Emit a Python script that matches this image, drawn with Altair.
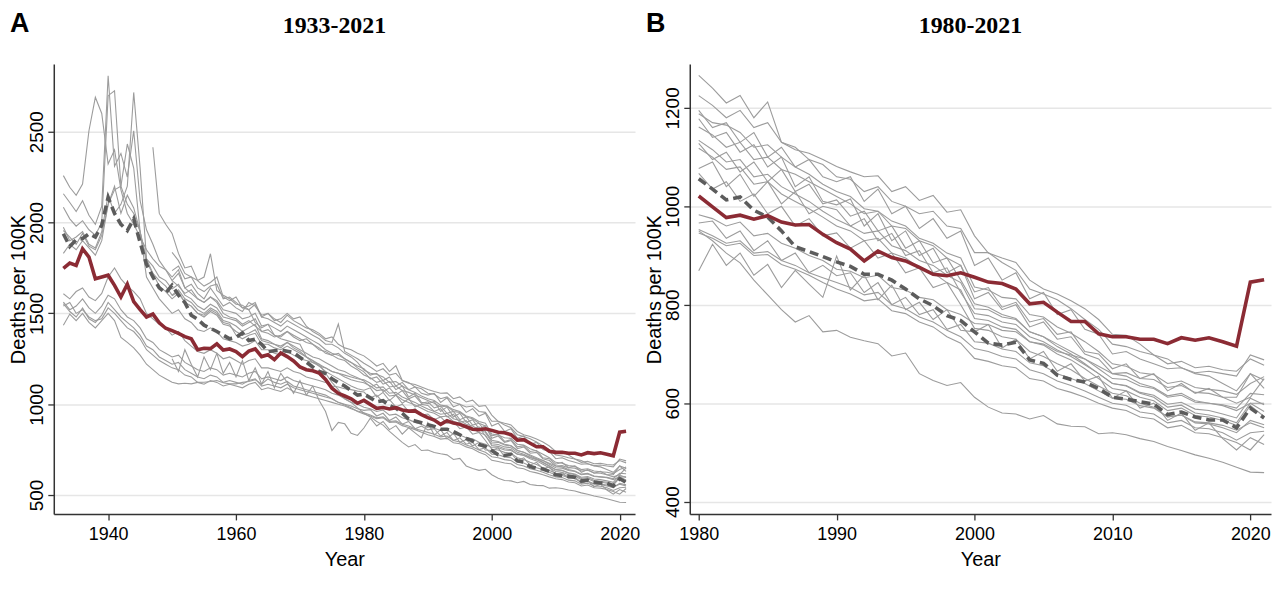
import altair as alt
import pandas as pd

# ---------------- data (deaths per 100K, age-adjusted) ----------------
US = [1748, 1777, 1764, 1855, 1810, 1690, 1700,
      1710, 1654, 1590, 1660, 1565, 1520, 1480, 1496, 1448, 1418,
      1405, 1390, 1372, 1360, 1300, 1308, 1306, 1332, 1298, 1304,
      1290, 1262, 1292, 1304, 1262, 1272, 1245, 1282, 1262, 1238,
      1205, 1190, 1184, 1172, 1136, 1088, 1060, 1045, 1030, 1005,
      1021, 999, 977, 982, 974, 981, 968, 962, 963, 943,
      926, 913, 889, 909, 896, 889, 876, 862, 859, 865,
      856, 846, 843, 832, 802, 805, 785, 766, 766, 741,
      735, 735, 730, 730, 721, 733, 728, 733, 725, 716,
      846, 851]

AVG = [1938, 1868, 1905, 1912, 1938, 1920, 1985,
       2139, 2050, 1990, 1956, 2020, 1890, 1770, 1700, 1640, 1612,
       1655, 1600, 1560, 1490, 1468, 1435, 1418, 1400, 1380, 1360,
       1368, 1392, 1350, 1358, 1330, 1290, 1294, 1298, 1292, 1284,
       1258, 1232, 1205, 1180, 1168, 1140, 1118, 1100, 1075, 1050,
       1056, 1035, 1013, 1019, 992, 978, 950, 918, 908, 898,
       887, 878, 862, 862, 850, 832, 812, 798, 778, 768,
       745, 722, 718, 724, 688, 681, 657, 648, 643, 630,
       612, 608, 603, 598, 577, 582, 572, 566, 566, 550,
       590, 570]

START = {"C01": 1933, "C02": 1950, "C03": 1933, "C04": 1950, "C05": 1950,
         "C06": 1933, "C07": 1933, "C08": 1933, "C09": 1950, "C10": 1933,
         "C11": 1933, "C12": 1933, "C13": 1933, "C14": 1933, "C15": 1947,
         "C16": 1933, "C17": 1950}

C01 = [2158, 2110, 2060, 2120, 2040, 1990, 2090,
       2808, 2310, 2380, 2250, 2505, 2120, 1960, 1880, 1790, 1740,
       1680, 1720, 1640, 1660, 1610, 1580, 1640, 1590, 1540, 1560,
       1530, 1510, 1560, 1540, 1490, 1500, 1470, 1450, 1490, 1460,
       1440, 1420, 1410, 1390, 1360, 1370, 1330, 1310, 1300, 1280,
       1266, 1240, 1210, 1225, 1180, 1212, 1130, 1115, 1108, 1095,
       1081, 1070, 1060, 1062, 1030, 1040, 1012, 1022, 988, 993,
       940, 905, 895, 886, 850, 832, 822, 808, 792, 770,
       740, 738, 720, 698, 690, 672, 660, 655, 640, 625,
       660, 630]
C02 = [1836, 1790, 1720, 1700, 1681, 1700, 1828, 1626, 1600, 1580,
       1550, 1545, 1520, 1550, 1480, 1500, 1460, 1470, 1500, 1470,
       1480, 1430, 1400, 1380, 1350, 1340, 1441, 1290, 1270, 1250,
       1225, 1205, 1180, 1195, 1160, 1170, 1130, 1120, 1095, 1085,
       1060, 1055, 1030, 1040, 1010, 1000, 985, 990, 960, 955,
       906, 906, 886, 870, 832, 822, 810, 792, 770, 750,
       720, 715, 705, 698, 680, 685, 672, 675, 668, 665,
       690, 677]
C03 = [2258, 2194, 2150, 2212, 2505, 2689, 2600,
       2322, 2400, 2180, 2050, 1990, 1920, 1850, 1800, 1760, 1740,
       1700, 1740, 1640, 1610, 1580, 1560, 1590, 1560, 1500, 1480,
       1470, 1440, 1460, 1430, 1400, 1390, 1370, 1380, 1400, 1370,
       1350, 1360, 1330, 1300, 1290, 1270, 1280, 1250, 1230, 1210,
       1195, 1160, 1170, 1130, 1150, 1100, 1120, 1080, 1095, 1060,
       1050, 1060, 1010, 1035, 985, 1000, 955, 975, 935, 950,
       880, 895, 850, 865, 812, 825, 780, 790, 750, 740,
       700, 705, 690, 680, 670, 672, 662, 665, 660, 655,
       698, 688]
C04 = [1735, 1760, 1690, 1700, 1640, 1620, 1650, 1660, 1580, 1590,
       1560, 1530, 1540, 1560, 1480, 1470, 1450, 1430, 1460, 1440,
       1420, 1400, 1380, 1360, 1330, 1330, 1310, 1280, 1260, 1230,
       1188, 1170, 1165, 1150, 1120, 1125, 1100, 1080, 1065, 1045,
       1030, 1020, 995, 990, 970, 960, 935, 925, 905, 895,
       836, 830, 815, 812, 780, 775, 755, 742, 725, 705,
       680, 675, 662, 658, 640, 645, 632, 628, 625, 618,
       640, 654]
C05 = [1680, 1650, 1610, 1630, 1580, 1560, 1590, 1570, 1520, 1510,
       1500, 1470, 1480, 1500, 1430, 1440, 1420, 1400, 1430, 1410,
       1390, 1370, 1350, 1330, 1300, 1280, 1270, 1250, 1230, 1200,
       1178, 1140, 1150, 1110, 1125, 1080, 1100, 1040, 1060, 1010,
       1003, 1015, 960, 985, 930, 950, 900, 915, 865, 880,
       812, 825, 790, 800, 755, 765, 730, 735, 700, 690,
       660, 655, 640, 632, 615, 620, 605, 600, 595, 585,
       600, 600]
C06 = [2084, 2020, 1980, 2010, 1960, 1930, 2000,
       2698, 2725, 2200, 2100, 2050, 1950, 1800, 1760, 1700, 1680,
       1634, 1660, 1600, 1580, 1540, 1520, 1550, 1530, 1480, 1470,
       1460, 1430, 1450, 1470, 1400, 1410, 1380, 1370, 1400, 1380,
       1360, 1340, 1330, 1310, 1280, 1270, 1250, 1240, 1210, 1190,
       1161, 1145, 1120, 1130, 1095, 1100, 1075, 1065, 1050, 1035,
       1020, 1005, 985, 990, 960, 955, 930, 920, 895, 880,
       826, 835, 795, 805, 765, 772, 740, 745, 705, 700,
       670, 680, 650, 660, 625, 640, 620, 630, 612, 612,
       660, 647]
C07 = [1830, 1880, 1850, 1900, 1860, 1820, 1900,
       2100, 2180, 2200, 2432, 2300, 1950, 1700, 1640, 1580, 1540,
       1500, 1520, 1470, 1450, 1410, 1400, 1420, 1400, 1360, 1350,
       1340, 1320, 1330, 1350, 1300, 1300, 1280, 1270, 1290, 1270,
       1250, 1240, 1230, 1210, 1200, 1180, 1170, 1160, 1150, 1140,
       1134, 1115, 1090, 1095, 1060, 1065, 1040, 1025, 1010, 990,
       973, 960, 945, 950, 920, 910, 890, 880, 860, 845,
       792, 790, 775, 770, 745, 735, 720, 705, 690, 670,
       650, 648, 635, 630, 612, 616, 602, 600, 597, 590,
       620, 617]
C08 = [1974, 1900, 1920, 1950, 1880, 1860, 1950,
       2150, 2050, 2100, 2200, 2716, 2300, 1800, 1720, 1650, 1620,
       1580, 1610, 1560, 1540, 1500, 1480, 1510, 1490, 1440, 1430,
       1400, 1380, 1390, 1410, 1350, 1340, 1330, 1310, 1340, 1320,
       1300, 1280, 1260, 1250, 1230, 1210, 1190, 1180, 1160, 1145,
       1128, 1095, 1110, 1070, 1090, 1050, 1075, 1030, 1045, 1005,
       1013, 980, 990, 950, 960, 915, 930, 885, 895, 850,
       802, 795, 780, 772, 745, 735, 715, 700, 680, 660,
       640, 635, 620, 612, 592, 596, 580, 576, 570, 560,
       600, 583]
C09 = [1597, 1620, 1560, 1540, 1500, 1490, 1520, 1500, 1450, 1440,
       1380, 1360, 1380, 1390, 1330, 1330, 1310, 1300, 1320, 1300,
       1280, 1260, 1240, 1220, 1200, 1180, 1170, 1150, 1135, 1125,
       1118, 1100, 1075, 1080, 1045, 1050, 1025, 1010, 995, 978,
       960, 950, 930, 935, 905, 895, 875, 865, 845, 830,
       772, 768, 755, 750, 725, 718, 700, 688, 670, 650,
       630, 625, 612, 605, 585, 590, 575, 572, 565, 555,
       595, 573]
C10 = [1956, 1920, 1880, 1940, 1870, 1850, 1930,
       2100, 2200, 2050, 2150, 2080, 1950, 1780, 1720, 1680, 1650,
       1600, 1630, 1580, 1560, 1520, 1500, 1530, 1510, 1460, 1450,
       1430, 1400, 1420, 1440, 1360, 1350, 1330, 1320, 1340, 1310,
       1290, 1260, 1240, 1210, 1180, 1160, 1140, 1120, 1100, 1085,
       1077, 1090, 1040, 1065, 1020, 1050, 1005, 1030, 985, 1000,
       993, 960, 975, 930, 945, 900, 910, 865, 875, 825,
       782, 778, 765, 760, 735, 725, 708, 695, 678, 660,
       640, 636, 622, 616, 598, 602, 588, 585, 578, 570,
       610, 597]
C11 = [1608, 1580, 1620, 1640, 1590, 1570, 1610,
       1700, 1750, 1690, 1650, 1620, 1580, 1500, 1470, 1440, 1420,
       1380, 1400, 1350, 1320, 1290, 1280, 1300, 1280, 1250, 1260,
       1240, 1220, 1240, 1250, 1200, 1200, 1190, 1180, 1200, 1180,
       1170, 1150, 1140, 1130, 1120, 1100, 1095, 1085, 1080, 1072,
       1067, 1035, 1050, 1010, 1025, 985, 1000, 960, 975, 940,
       946, 915, 930, 895, 905, 865, 875, 835, 845, 800,
       752, 748, 735, 730, 705, 695, 680, 668, 650, 635,
       620, 615, 600, 592, 572, 576, 560, 558, 550, 540,
       565, 556]
C12 = [1562, 1520, 1540, 1580, 1530, 1500, 1540,
       1600, 1580, 1520, 1480, 1460, 1420, 1360, 1340, 1300, 1280,
       1260, 1270, 1230, 1210, 1190, 1180, 1200, 1190, 1160, 1170,
       1160, 1150, 1170, 1180, 1140, 1150, 1140, 1130, 1150, 1130,
       1120, 1110, 1100, 1090, 1080, 1060, 1050, 1030, 1010, 1000,
       983, 975, 960, 968, 940, 945, 925, 915, 900, 890,
       872, 868, 855, 860, 835, 830, 815, 810, 790, 780,
       762, 760, 748, 745, 725, 720, 705, 698, 690, 675,
       660, 662, 650, 648, 632, 636, 622, 620, 612, 600,
       612, 650]
C13 = [1553, 1510, 1480, 1530, 1470, 1450, 1490,
       1560, 1520, 1480, 1450, 1420, 1380, 1320, 1300, 1260, 1240,
       1220, 1230, 1190, 1170, 1150, 1140, 1160, 1150, 1120, 1130,
       1120, 1110, 1130, 1140, 1100, 1110, 1100, 1090, 1110, 1090,
       1080, 1070, 1060, 1050, 1040, 1030, 1010, 1000, 990, 975,
       966, 970, 935, 950, 910, 930, 890, 905, 865, 880,
       859, 865, 825, 845, 800, 815, 780, 790, 750, 760,
       725, 722, 710, 705, 682, 676, 660, 650, 640, 625,
       610, 608, 595, 590, 572, 576, 562, 560, 555, 545,
       560, 550]
C14 = [1540, 1560, 1500, 1520, 1480, 1460, 1470,
       1530, 1500, 1460, 1420, 1400, 1360, 1300, 1270, 1240, 1220,
       1200, 1190, 1160, 1150, 1120, 1110, 1130, 1120, 1100, 1110,
       1100, 1090, 1110, 1120, 1080, 1090, 1080, 1070, 1090, 1070,
       1060, 1050, 1040, 1030, 1020, 1010, 1000, 990, 975, 962,
       953, 940, 925, 930, 905, 908, 890, 880, 865, 855,
       845, 835, 820, 825, 800, 792, 775, 765, 748, 735,
       711, 705, 695, 690, 668, 660, 645, 636, 625, 612,
       600, 596, 582, 578, 560, 565, 550, 548, 540, 525,
       540, 543]
C15 = [2414, 2050, 1990,
       1940, 1830, 1750, 1760, 1680, 1650, 1670, 1700, 1590, 1570,
       1590, 1530, 1520, 1450, 1420, 1440, 1380, 1360, 1350, 1340,
       1330, 1260, 1230, 1220, 1170, 1120, 1080, 1030, 1010, 980,
       950, 930, 905, 885, 850, 820, 790, 765, 778, 745,
       748, 734, 727, 721, 696, 702, 660, 646, 636, 642,
       612, 592, 580, 578, 568, 575, 558, 553, 552, 538,
       540, 536, 528, 522, 512, 504, 495, 488, 480, 470,
       460, 459]
C16 = [1434, 1496, 1460, 1500, 1450, 1420, 1460,
       1500, 1460, 1368, 1340, 1310, 1270, 1220, 1190, 1160, 1140,
       1121, 1112, 1115, 1112, 1120, 1121, 1125, 1130, 1118, 1112,
       1112, 1120, 1125, 1135, 1110, 1139, 1120, 1110, 1125, 1100,
       1090, 1080, 1070, 1060, 1050, 1030, 1010, 995, 980, 960,
       946, 935, 920, 925, 900, 902, 882, 872, 860, 845,
       832, 822, 808, 812, 788, 782, 765, 755, 735, 722,
       691, 685, 676, 672, 650, 645, 630, 622, 612, 600,
       590, 585, 572, 568, 550, 555, 540, 538, 530, 520,
       505, 536]
C17 = [1250, 1180, 1300, 1220, 1150, 1260, 1190, 1280, 1170, 1230,
       1150, 1240, 1130, 1200, 1110, 1180, 1090, 1170, 1120, 1060,
       1130, 1050, 1100, 1020, 960, 855, 900, 892, 840, 828,
       869, 923, 880, 905, 860, 882, 835, 870, 842, 815,
       899, 830, 860, 810, 840, 790, 805, 770, 790, 748,
       745, 760, 712, 730, 690, 705, 665, 680, 645, 655,
       610, 625, 590, 600, 565, 580, 545, 560, 528, 505,
       530, 516]

GRAY = {"C01": C01, "C02": C02, "C03": C03, "C04": C04, "C05": C05,
        "C06": C06, "C07": C07, "C08": C08, "C09": C09, "C10": C10,
        "C11": C11, "C12": C12, "C13": C13, "C14": C14, "C15": C15,
        "C16": C16, "C17": C17}

assert len(US) == 89 and len(AVG) == 89
rows = []
for name, vals in GRAY.items():
    s = START[name]
    assert len(vals) == 2022 - s, (name, len(vals))
    for i, v in enumerate(vals):
        rows.append({"country": name, "year": s + i, "value": v})
gray_df = pd.DataFrame(rows)
us_df = pd.DataFrame({"year": list(range(1933, 2022)), "value": US})
avg_df = pd.DataFrame({"year": list(range(1933, 2022)), "value": AVG})

# ---------------- styling ----------------
W, H = 584, 452
SANS = "Liberation Sans"
GRAY_COL = "#9c9c9c"
RED = "#8b2b34"
DASH = "#5c5c5c"


def panel(ymin_year, xdom, ydom, xticks, yticks, title, letter):
    g = gray_df[gray_df.year >= ymin_year]
    u = us_df[us_df.year >= ymin_year]
    a = avg_df[avg_df.year >= ymin_year]
    x = alt.X("year:Q",
              scale=alt.Scale(domain=xdom, nice=False, zero=False),
              axis=alt.Axis(values=xticks, format="d", title="Year", grid=False,
                            labelFontSize=18, labelPadding=6, titleFontSize=20,
                            titleY=46, titleBaseline="middle",
                            labelFlush=False, labelOverlap=False))
    y = alt.Y("value:Q",
              scale=alt.Scale(domain=ydom, nice=False, zero=False),
              axis=alt.Axis(values=yticks, format="d", title="Deaths per 100K",
                            grid=True, gridColor="#e6e6e6", gridWidth=1.5,
                            labelAngle=-90, labelAlign="center",
                            labelBaseline="alphabetic", labelPadding=5,
                            labelFontSize=19, titleFontSize=20,
                            titleX=-35, titleBaseline="middle",
                            labelFlush=False, labelOverlap=False))
    gl = alt.Chart(g).mark_line(color=GRAY_COL, strokeWidth=1.1).encode(
        x=x, y=y, detail="country:N", order="year:Q")
    al = alt.Chart(a).mark_line(color=DASH, strokeWidth=3.6,
                                strokeDash=[9, 5]).encode(x=x, y=y, order="year:Q")
    ul = alt.Chart(u).mark_line(color=RED, strokeWidth=3.6).encode(
        x=x, y=y, order="year:Q")
    lab = pd.DataFrame({"t": [letter]})
    lt = alt.Chart(lab).mark_text(font=SANS, fontSize=27, fontWeight="bold",
                                  align="left", baseline="middle",
                                  color="black").encode(
        text="t:N", x=alt.value(-44), y=alt.value(-40))
    tt = alt.Chart(pd.DataFrame({"t": [title]})).mark_text(
        font="Liberation Serif", fontSize=24, fontWeight="bold",
        align="center", baseline="middle", color="black").encode(
        text="t:N", x=alt.value(W / 2 - 10), y=alt.value(-38))
    return alt.layer(gl, al, ul, lt, tt).properties(width=W, height=H)


pA = panel(1933, [1931.5, 2022.4], [396, 2872],
           [1940, 1960, 1980, 2000, 2020], [500, 1000, 1500, 2000, 2500],
           "1933-2021", "A")
pB = panel(1980, [1979.35, 2021.5], [375, 1289],
           [1980, 1990, 2000, 2010, 2020], [400, 600, 800, 1000, 1200],
           "1980-2021", "B")

chart = alt.hconcat(pA, pB, spacing=55, bounds="flush").properties(
    padding={"left": 0, "top": 0, "right": 0, "bottom": 0}
).configure_view(stroke="transparent").configure_axis(
    labelFont=SANS, titleFont=SANS, titleFontWeight="normal",
    labelColor="black", titleColor="black",
    domainColor="#333333", domainWidth=1.5,
    tickColor="#333333", tickWidth=1.3, tickSize=6,
)

chart.save("out.html", embed_options={"renderer": "svg", "actions": False})
